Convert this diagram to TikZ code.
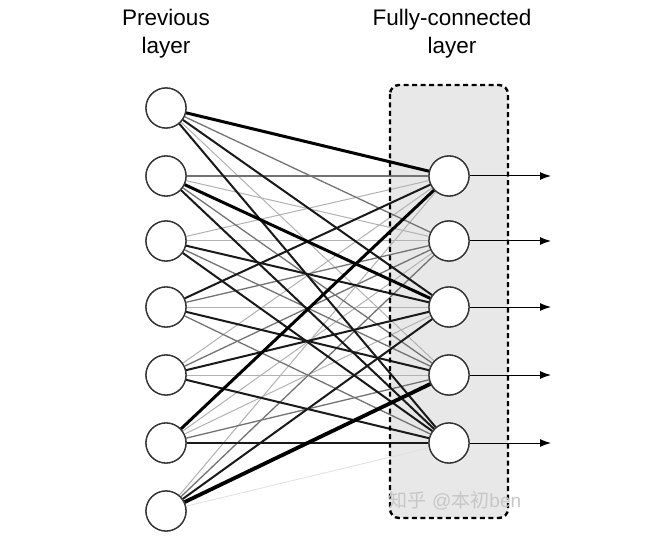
\documentclass[tikz,border=0pt]{standalone}
\usepackage{fontspec}
\setmainfont{Liberation Sans}
\newfontfamily\cjkfont{Noto Sans CJK SC}
\usetikzlibrary{arrows.meta}
\tikzset{
  neuron/.style={circle,draw=black!80,line width=1.3pt,fill=white,minimum size=40pt,inner sep=0pt},
  hv/.style={draw=black,line width=3pt},
  dk/.style={draw=black!90,line width=2pt},
  md/.style={draw=black!55,line width=1.3pt},
  lt/.style={draw=black!30,line width=1pt},
  vlt/.style={draw=black!12,line width=0.8pt},
  outarrow/.style={draw=black,line width=1pt,-{Latex[length=11pt,width=8pt]}},
  lbl/.style={font=\fontsize{22.5}{28}\selectfont,align=center,text=black}
}
\begin{document}
\begin{tikzpicture}[x=1pt,y=-1pt]
\useasboundingbox (0,0) rectangle (648,556);
\fill[white] (0,0) rectangle (648,556);
% box fill
\fill[black!9,rounded corners=9pt] (390,85) rectangle (508,518);
% nodes
\foreach \i/\y in {1/108,2/176,3/241,4/307,5/375,6/443,7/511}
  \node[neuron] (L\i) at (166,\y) {};
\foreach \j/\y in {1/176,2/241,3/307,4/375,5/443}{
  \node[neuron] (R\j) at (449,\y) {};
  \coordinate (O\j) at (551,\y);
}
% connections
\foreach \i/\j/\s in {
 1/4/lt,2/2/lt,3/1/lt,3/2/lt,4/3/lt,5/1/lt,5/4/lt,6/2/lt,6/3/lt,7/1/lt,7/5/vlt,
 1/2/md,2/1/md,2/4/md,3/4/md,4/2/md,4/5/md,5/2/md,6/4/md,7/2/md,
 1/3/dk,1/5/dk,2/5/dk,3/3/dk,3/5/dk,4/1/dk,4/4/dk,5/3/dk,5/5/dk,6/5/dk,7/3/dk,
 1/1/hv,2/3/hv,6/1/hv}
  \draw[\s] (L\i) -- (R\j);
\draw[hv,line width=3.8pt] (L7) -- (R4);
% dashed border
\draw[black,line width=2.4pt,dash pattern=on 5pt off 3.5pt,rounded corners=9pt] (390,85) rectangle (508,518);
% redraw nodes on top
\foreach \i/\y in {1/108,2/176,3/241,4/307,5/375,6/443,7/511}
  \node[neuron] at (166,\y) {};
\foreach \j/\y in {1/176,2/241,3/307,4/375,5/443}
  \node[neuron] at (449,\y) {};
% outputs
\foreach \j in {1,...,5}
  \draw[outarrow] (R\j) -- (O\j);
% labels
\node[lbl] (prev) at (166,34) {Previous\\layer};
\node[lbl] (fc) at (452,34) {Fully-connected\\layer};
% watermark
\node[text=black!22,font=\fontsize{19}{22}\selectfont] (wm) at (455,501) {{\cjkfont 知乎} @{\cjkfont 本初}ben};
\end{tikzpicture}
\end{document}
